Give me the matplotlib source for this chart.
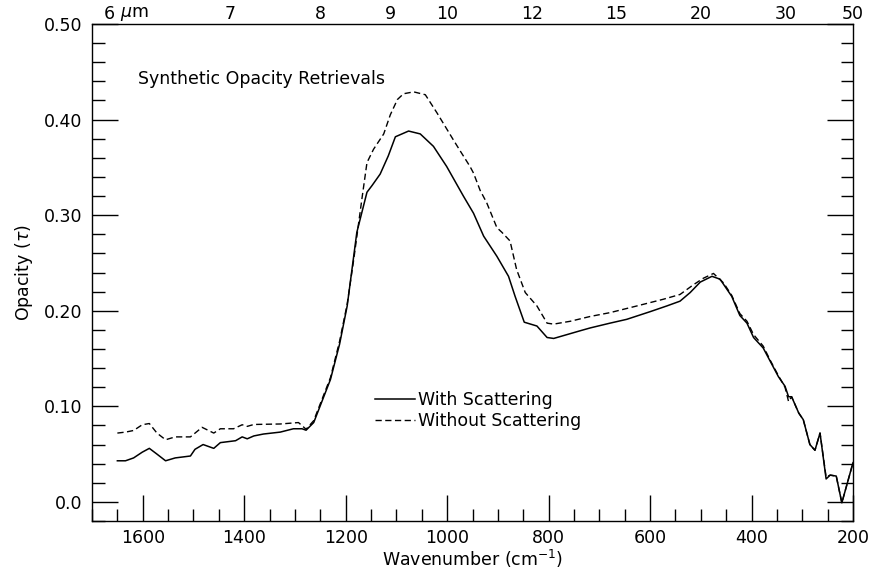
import numpy as np
import matplotlib
matplotlib.use("Agg")
import matplotlib.pyplot as plt
from matplotlib.ticker import MultipleLocator

# wavenumber (cm^-1) and opacity
wn_scat = [1650, 1634, 1618, 1601, 1587, 1572, 1555, 1536, 1506, 1497, 1481, 1460,
           1447, 1417, 1404, 1394, 1381, 1362, 1329, 1303, 1286, 1278, 1263, 1230,
           1212, 1197, 1178, 1158, 1148, 1132, 1116, 1102, 1076, 1053, 1027, 1001,
           968, 948, 928, 902, 879, 866, 848, 823, 803, 790, 764, 738, 718, 679,
           646, 600, 567, 541, 521, 501, 478, 462, 439, 423, 409, 396, 377, 363,
           347, 334, 327, 321, 307, 298, 285, 275, 265, 253, 245, 233, 222, 200]
tau_scat = [0.043, 0.043, 0.046, 0.052, 0.056, 0.050, 0.043, 0.046, 0.048, 0.055, 0.060, 0.056,
            0.062, 0.064, 0.068, 0.066, 0.069, 0.071, 0.073, 0.0765, 0.0765, 0.075, 0.083, 0.128,
            0.165, 0.205, 0.282, 0.324, 0.331, 0.343, 0.362, 0.382, 0.388, 0.385, 0.372, 0.351,
            0.320, 0.302, 0.278, 0.257, 0.236, 0.215, 0.188, 0.184, 0.172, 0.171, 0.175, 0.179, 0.182, 0.187,
            0.191, 0.199, 0.205, 0.210, 0.219, 0.230, 0.236, 0.233, 0.215, 0.195, 0.187, 0.172, 0.161, 0.147,
            0.131, 0.121, 0.110, 0.110, 0.093, 0.086, 0.060, 0.054, 0.072, 0.024, 0.028, 0.027, -0.001, 0.041]

wn_noscat = [1650, 1634, 1618, 1601, 1587, 1572, 1555, 1536, 1506, 1483, 1460, 1447,
             1421, 1404, 1394, 1381, 1329, 1293, 1278, 1263, 1230, 1212, 1197, 1184,
             1168, 1158, 1145, 1125, 1112, 1098, 1086, 1066, 1043, 1020, 988, 974, 955,
             948, 935, 922, 902, 892, 876, 863, 846, 823, 803, 790, 757, 718, 679,
             626, 574, 541, 515, 495, 475, 455, 439, 423, 409, 396, 377, 363, 347,
             334, 327, 321, 307, 298, 285, 275, 265, 253, 245, 233, 222, 200]
tau_noscat = [0.072, 0.073, 0.0747, 0.0807, 0.082, 0.072, 0.065, 0.068, 0.068, 0.078, 0.072, 0.0765,
              0.0765, 0.0807, 0.079, 0.081, 0.0815, 0.083, 0.076, 0.085, 0.130, 0.168, 0.207, 0.254,
              0.317, 0.355, 0.369, 0.385, 0.405, 0.421, 0.427, 0.429, 0.426, 0.407, 0.379, 0.367, 0.351,
              0.344, 0.326, 0.313, 0.287, 0.282, 0.273, 0.243, 0.219, 0.205, 0.187, 0.186, 0.189, 0.194, 0.198,
              0.205, 0.212, 0.217, 0.227, 0.234, 0.239, 0.229, 0.216, 0.197, 0.189, 0.175, 0.163, 0.148, 0.132,
              0.120, 0.105, 0.110, 0.093, 0.086, 0.060, 0.054, 0.072, 0.026, 0.028, 0.027, -0.001, 0.041]

y_ticks = [0.0, 0.1, 0.2, 0.3, 0.4, 0.5]
y_labels = ["0.0", "0.10", "0.20", "0.30", "0.40", "0.50"]
top_um = [6, 7, 8, 9, 10, 12, 15, 20, 30, 50]

FS = 12.5
plt.rcParams["font.family"] = "DejaVu Sans"
plt.rcParams["font.size"] = FS

fig = plt.figure(figsize=(8.72, 5.71), dpi=100)
ax = fig.add_axes([92 / 872, 1 - 521 / 571, (853 - 92) / 872, (521 - 24) / 571])

ax.plot(wn_scat, tau_scat, color="black", lw=1.1, label="With Scattering")
ax.plot(wn_noscat, tau_noscat, color="black", lw=1.0, ls=(0, (4.5, 2.5)),
        label="Without Scattering")

ax.set_xlim(1700, 200)
ax.set_ylim(-0.02, 0.50)

ax.xaxis.set_major_locator(MultipleLocator(200))
ax.xaxis.set_minor_locator(MultipleLocator(50))
ax.set_yticks(y_ticks)
ax.set_yticklabels(y_labels)
ax.yaxis.set_minor_locator(MultipleLocator(0.02))

ax.tick_params(which="both", direction="in", top=True, right=True, width=1.0, labelsize=FS)
ax.tick_params(which="major", length=19)
ax.tick_params(which="minor", length=9)
ax.tick_params(axis="x", which="major", pad=6)
ax.tick_params(axis="y", which="major", pad=7)
for s in ax.spines.values():
    s.set_linewidth(1.0)

ax.set_xlabel("Wavenumber (cm$^{-1}$)", fontsize=FS, labelpad=0.5)
ax.set_ylabel(r"Opacity ($\tau$)", fontsize=FS, labelpad=6)

# wavelength labels along the top
top = ax.twiny()
top.set_xlim(ax.get_xlim())
top.set_xticks([10000.0 / u for u in top_um])
top.set_xticklabels([str(u) for u in top_um])
top.xaxis.set_minor_locator(plt.NullLocator())
top.tick_params(axis="x", length=0, pad=0.5, labelsize=FS)
for s in top.spines.values():
    s.set_visible(False)
top.annotate(r"$\mu$m", xy=(10000.0 / 6, 1), xycoords=("data", "axes fraction"),
             xytext=(8, 0.5), textcoords="offset points", ha="left", va="bottom", fontsize=FS)

ax.text(1610, 0.442, "Synthetic Opacity Retrievals", ha="left", va="center", fontsize=FS)

ax.legend(loc="upper left", bbox_to_anchor=((375 - 92) / 761, (521 - 391) / 497),
          frameon=False, handlelength=2.3, handletextpad=0.2, labelspacing=0.15,
          borderpad=0, borderaxespad=0, fontsize=FS)

fig.savefig("out.png", dpi=100)
